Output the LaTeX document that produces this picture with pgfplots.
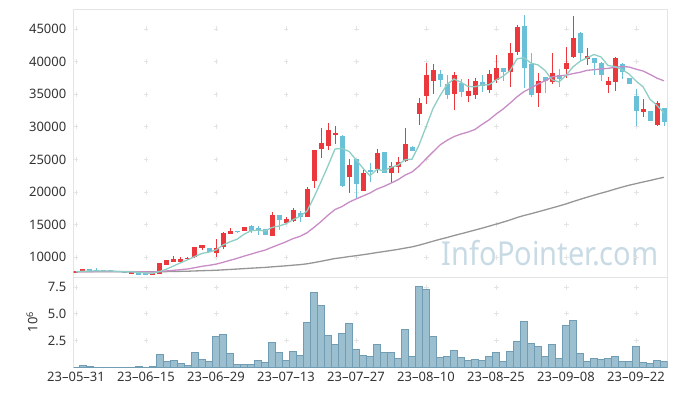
\documentclass[border=0pt]{standalone}
\usepackage{fontspec}
\setmainfont{Noto Sans}
\usepackage{pgfplots}
\pgfplotsset{compat=1.18}
\usepackage{pgfplotstable}

\definecolor{upc}{RGB}{234,56,60}
\definecolor{dnc}{RGB}{106,192,214}
\definecolor{maA}{RGB}{142,206,196}
\definecolor{maB}{RGB}{200,140,198}
\definecolor{maC}{RGB}{150,150,150}
\definecolor{volfill}{RGB}{155,191,206}
\definecolor{voledge}{RGB}{112,157,180}
\definecolor{framec}{RGB}{228,228,228}
\definecolor{gridc}{RGB}{228,228,228}
\definecolor{wm}{RGB}{200,219,229}
\definecolor{tickc}{RGB}{51,51,51}

\pgfplotstableread{
i o h l c
0 7760 7800 7750 7800
1 7700 8250 7700 8200
8 7490 7770 7470 7750
11 7340 7650 7330 7640
12 7450 9200 7440 9150
13 8820 9650 8800 9600
14 9280 10200 9250 9790
15 9330 9990 9100 9740
16 9740 10000 9700 9940
17 10050 11650 9950 11600
18 11450 11950 11120 11880
20 10700 12750 10000 11370
21 11580 13930 11250 13750
22 13550 14540 13500 14050
24 14080 14700 14050 14650
28 13290 16900 13250 16480
30 15300 16230 15250 15870
31 15610 17600 15450 17250
33 16220 20830 16200 20470
34 21750 26500 20680 26450
35 26650 29770 25170 27570
36 27000 30530 26450 29510
37 28900 30200 27300 29000
39 22360 25020 19910 24150
41 20210 23350 20200 22970
43 23490 26600 22880 25940
45 22970 24650 21450 24000
46 23890 25420 22950 24610
47 24810 29770 24650 27370
49 31900 34400 30300 33700
50 34800 39800 33550 37950
51 37080 39600 35050 38710
54 35100 38450 32580 37950
56 34760 37280 33860 35520
57 34950 37450 34270 37000
59 35700 38720 35130 38080
60 37180 41000 36670 39000
62 38450 42800 36150 41300
63 41520 45650 41000 45300
66 35240 38200 33000 37030
68 36920 41270 36570 38200
70 38870 42190 37440 39840
71 40650 46990 40500 43620
73 40350 42030 39480 40860
76 36410 37700 35240 37080
77 36920 40760 35540 40500
81 32330 34220 31560 32735
83 30280 34010 30130 33700
}\uptable

\pgfplotstableread{
i o h l c
2 8150 8200 7880 7900
3 8050 8360 7780 7800
4 8050 8080 7780 7800
5 8050 8070 7830 7850
6 7950 7970 7730 7750
7 7850 7870 7680 7700
9 7590 7600 7320 7340
10 7590 7600 7320 7340
19 11470 11500 10800 10830
23 14080 14100 13800 13830
25 14800 14950 13650 14080
26 14540 14850 13430 14180
27 14390 14400 13400 13470
29 16480 16500 14230 15720
32 16840 17150 15450 16120
38 28600 28750 20730 20930
40 25070 25100 19040 21240
42 23350 24410 21590 23200
44 26100 26150 22850 22880
48 26960 27000 26300 26340
52 38100 38700 36150 37200
53 36570 37950 34220 34880
55 36720 37280 34520 35390
58 36870 37950 35390 36290
61 39000 39050 37080 38410
64 45460 47200 35900 38950
65 39630 41300 34500 34880
67 37590 37600 35130 37030
69 37900 38800 36050 37280
72 44330 44590 40140 41270
74 40550 40600 37950 39840
75 39840 39900 37080 37950
78 39630 39840 37280 38460
79 37440 37460 36550 36570
80 34730 35750 30130 32480
82 32430 32500 30880 30900
84 32840 32900 30130 30800
}\dntable

\pgfplotstableread{
i m5 m20 m100
0 7780 7780 7780
1 7864 7801 7784
2 7888 7807 7785
3 7892 7808 7786
4 7896 7809 7786
5 7910 7812 7787
6 7820 7811 7786
7 7780 7807 7785
8 7770 7806 7785
9 7678 7784 7781
10 7576 7762 7776
11 7554 7755 7775
12 7844 7823 7789
13 8214 7914 7807
14 8704 8015 7827
15 9184 8113 7847
16 9644 8221 7868
17 10134 8412 7906
18 10590 8617 7947
19 10798 8769 7978
20 11124 8949 8014
21 11886 9226 8073
22 12376 9534 8136
23 12766 9835 8197
24 13530 10178 8265
25 14072 10489 8328
26 14158 10811 8392
27 14042 11099 8449
28 14572 11536 8536
29 14786 11955 8616
30 15144 12381 8697
31 15758 12862 8791
32 16288 13210 8875
33 17086 13754 9002
34 19232 14587 9188
35 21572 15478 9386
36 24024 16457 9603
37 26600 17327 9816
38 26692 17779 9947
39 26232 18445 10111
40 24966 18939 10245
41 23658 19400 10397
42 22498 19857 10552
43 23500 20463 10733
44 23246 20874 10884
45 23798 21370 11046
46 24126 21892 11215
47 24960 22587 11410
48 25040 23080 11596
49 27204 23979 11855
50 29994 25083 12157
51 32814 26156 12466
52 34780 27210 12760
53 36488 27930 13032
54 37338 28505 13333
55 36826 28896 13609
56 36188 29197 13887
57 36148 29597 14179
58 36430 30365 14464
59 36456 31061 14767
60 37178 31949 15079
61 37756 32721 15386
62 38616 33626 15721
63 40418 34594 16096
64 40592 35398 16408
65 39768 35942 16679
66 39492 36563 16971
67 38638 37046 17264
68 37218 37639 17568
69 36884 37818 17863
70 37876 37912 18183
71 39194 38158 18542
72 40042 38361 18877
73 40574 38660 19208
74 41086 38755 19528
75 40708 38883 19830
76 39400 38961 20123
77 39246 39136 20450
78 38766 39244 20757
79 38112 39169 21045
80 37018 38843 21292
81 36149 38559 21541
82 34229 38039 21772
83 33277 37459 22032
84 32123 37051 22262
}\matable

\pgfplotstableread{
i v
0 0
1 0.16
2 0.08
3 0
4 0
5 0
6 0
7 0
8 0
9 0.08
10 0
11 0.06
12 1.19
13 0.56
14 0.66
15 0.38
16 0.16
17 1.37
18 0.75
19 0.56
20 2.87
21 3.06
22 1.28
23 0.25
24 0.25
25 0.25
26 0.66
27 0.47
28 2.31
29 1.37
30 0.66
31 1.47
32 1.09
33 4.18
34 6.99
35 5.77
36 2.97
37 2.12
38 3.15
39 4.09
40 1.65
41 1.09
42 1.00
43 2.12
44 1.37
45 1.37
46 0.81
47 3.53
48 1.00
49 7.55
50 7.27
51 2.87
52 0.90
53 1.00
54 1.56
55 0.90
56 0.62
57 0.72
58 0.62
59 1.00
60 1.37
61 0.53
62 1.47
63 2.40
64 4.28
65 2.21
66 1.93
67 1.00
68 2.12
69 0.81
70 3.90
71 4.37
72 1.28
73 0.53
74 0.81
75 0.72
76 0.81
77 1.00
78 0.53
79 0.53
80 1.93
81 0.44
82 0.34
83 0.62
84 0.53
}\voltable

\pgfplotsset{
  common/.style={
    scale only axis, width=594bp,
    xmin=-0.357, xmax=84.5,
    xtick={0,10,...,80},
    major tick length=0pt,
    scaled y ticks=false, scaled x ticks=false,
    axis line style={draw=framec, line width=1bp},
    tick label style={font=\fontsize{13bp}{15bp}\selectfont, text=tickc, inner sep=0pt},
    yticklabel style={xshift=-7bp},
    /pgf/number format/assume math mode=true,
  },
  crosses/.style={draw=none, mark=none, forget plot,
    error bars/.cd, x dir=both, x fixed=0.357, y dir=both, y fixed=#1, error mark=none,
    error bar style={draw=gridc, line width=0.9bp, solid}},
  wick/.style={draw=none, mark=none, forget plot,
    error bars/.cd, y dir=both, y explicit, error mark=none,
    error bar style={draw=#1, line width=1bp, solid}},
  body/.style={draw=none, mark=none, forget plot,
    error bars/.cd, y dir=both, y explicit, error mark=none,
    error bar style={draw=#1, line width=5bp, solid}},
}

\begin{document}
\begin{tikzpicture}
\path[use as bounding box] (0bp,0bp) rectangle (677bp,396bp);
\node[anchor=base west, text=wm, font=\fontsize{33bp}{36bp}\selectfont, inner sep=0pt, xscale=0.88] at (441.7bp,130bp) {InfoPointer.com};

\begin{axis}[common,
  at={(73.5bp,118.7bp)}, anchor=south west, height=267.3bp,
  ymin=6934, ymax=47911,
  xticklabels={},
  ytick={10000,15000,20000,25000,30000,35000,40000,45000},
  yticklabels={10000,15000,20000,25000,30000,35000,40000,45000},
]
\pgfplotsinvokeforeach{0,10,...,80}{
  \addplot[crosses=383]
    coordinates {(#1,10000)(#1,15000)(#1,20000)(#1,25000)(#1,30000)(#1,35000)(#1,40000)(#1,45000)};
}
\addplot[wick=upc] table[x=i, y expr={(\thisrow{h}+\thisrow{l})/2}, y error expr={(\thisrow{h}-\thisrow{l})/2}] {\uptable};
\addplot[wick=dnc] table[x=i, y expr={(\thisrow{h}+\thisrow{l})/2}, y error expr={(\thisrow{h}-\thisrow{l})/2}] {\dntable};
\addplot[body=upc] table[x=i, y expr={(\thisrow{o}+\thisrow{c})/2}, y error expr={max(abs(\thisrow{c}-\thisrow{o})/2,70)}] {\uptable};
\addplot[body=dnc] table[x=i, y expr={(\thisrow{o}+\thisrow{c})/2}, y error expr={max(abs(\thisrow{c}-\thisrow{o})/2,70)}] {\dntable};
\addplot[color=maC, line width=1.3bp, mark=none] table[x=i, y=m100] {\matable};
\addplot[color=maB, line width=1.3bp, mark=none] table[x=i, y=m20] {\matable};
\addplot[color=maA, line width=1.3bp, mark=none] table[x=i, y=m5] {\matable};
\end{axis}

\begin{axis}[common,
  at={(73.5bp,28.7bp)}, anchor=south west, height=90bp,
  ymin=0, ymax=8.41,
  xticklabels={23--05--31,23--06--15,23--06--29,23--07--13,23--07--27,23--08--10,23--08--25,23--09--08,23--09--22},
  xticklabel style={anchor=north, yshift=-4.4bp},
  ytick={2.5,5,7.5},
  yticklabels={2.5,5.0,7.5},
]
\pgfplotsinvokeforeach{0,10,...,80}{
  \addplot[crosses=0.234] coordinates {(#1,2.5)(#1,5)(#1,7.5)};
}
\addplot[ybar, bar width=1, bar shift=0pt, fill=volfill, draw=voledge, line width=0.8bp] table[x=i, y=v] {\voltable};
\end{axis}

\node[rotate=90, font=\fontsize{13bp}{15bp}\selectfont, text=tickc, inner sep=0pt] at (32bp,74bp) {10\textsuperscript{6}};
\end{tikzpicture}
\end{document}
